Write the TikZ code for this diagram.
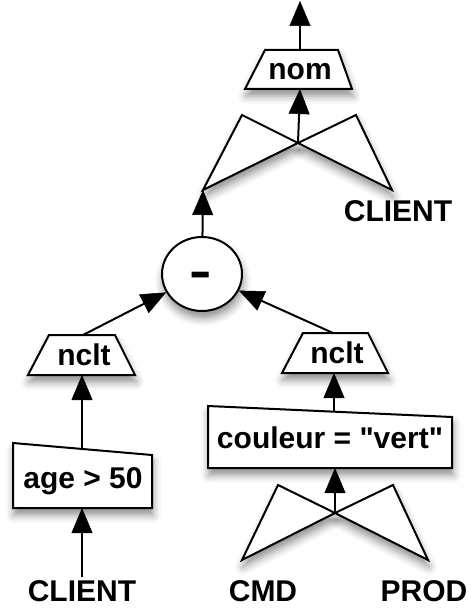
\documentclass[tikz,border=0pt]{standalone}
\usepackage{fontspec}
\newfontfamily\labelfont{Liberation Sans}
\usetikzlibrary{arrows.meta,shapes.geometric,shadows.blur}

\begin{document}
\begin{tikzpicture}[x=1pt,y=-1pt,
  every node/.style={font=\labelfont\bfseries\fontsize{30}{34}\selectfont,
      inner sep=0pt, anchor=base},
  shape line/.style={draw, line width=2pt, fill=white, line join=miter},
  soft shadow/.style={blur shadow={shadow xshift=1pt, shadow yshift=-7pt,
      shadow blur radius=8pt, shadow opacity=45}},
  flow/.style={line width=2pt, draw=black,
      -{Triangle[length=25pt,width=21pt,fill=black,line width=0.5pt]}},
]
\useasboundingbox (0,0) rectangle (473,612);

% projection on nom, above the upper join
\coordinate (out) at (300,1);
\path[shape line, soft shadow] (265,50) -- (338,50) -- (352,89) -- (245,89) -- cycle;
\node (nom) at (300,80) {nom};
\coordinate (nomN) at (300,50);
\coordinate (nomS) at (300,89);

% upper join
\path[shape line, soft shadow] (242,115) -- (298,143) -- (203,190) -- cycle;
\path[shape line, soft shadow] (356,115) -- (298,143) -- (392,190) -- cycle;
\coordinate (j1) at (298,143);
\coordinate (j1l) at (203,190);
\node (client1) at (398,222) {CLIENT};

% difference
\node[ellipse, shape line, soft shadow, minimum width=80pt, minimum height=74pt,
      anchor=center] (minus) at (202,274) {};
\node[font=\labelfont\bfseries\fontsize{48}{48}\selectfont] (minussign) at (201,287)
  {\scalebox{1.4}[1]{-}};

% left branch
\path[shape line, soft shadow] (49,335) -- (115,335) -- (135,375) -- (28,375) -- cycle;
\node (ncltL) at (84,365) {nclt};
\coordinate (ncltLN) at (83,335);
\coordinate (ncltLS) at (82,375);
\path[shape line, soft shadow] (13,443) -- (152,455) -- (152,508) -- (13,508) -- cycle;
\node (age) at (83,488) {age > 50};
\coordinate (ageN) at (82,449);
\coordinate (ageS) at (82,508);
\coordinate (client2N) at (82,577);
\node (client2) at (82,601) {CLIENT};

% right branch
\path[shape line, soft shadow] (303,333) -- (368,333) -- (388,373) -- (282,373) -- cycle;
\node (ncltR) at (337,363) {nclt};
\coordinate (ncltRN) at (333,333);
\coordinate (ncltRS) at (334,373);
\path[shape line, soft shadow] (208,406) -- (452,417) -- (452,468) -- (208,468) -- cycle;
\node (sel) at (330,448) {couleur = "vert"};
\coordinate (selN) at (334,412);
\coordinate (selS) at (335,468);
\path[shape line, soft shadow] (278,485) -- (335,513) -- (242,560) -- cycle;
\path[shape line, soft shadow] (393,485) -- (335,513) -- (428,560) -- cycle;
\coordinate (j2) at (335,513);
\node (cmd) at (263,601) {CMD};
\node (prod) at (424,601) {PROD};

% connectors
\draw[flow] (nomN) -- (out);
\draw[flow] (j1) -- (nomS);
\draw[flow] (minus) -- (j1l);
\draw[flow] (ncltLN) -- (minus);
\draw[flow] (ncltRN) -- (minus);
\draw[flow] (ageN) -- (ncltLS);
\draw[flow] (client2N) -- (ageS);
\draw[flow] (selN) -- (ncltRS);
\draw[flow] (j2) -- (selS);
\end{tikzpicture}
\end{document}
